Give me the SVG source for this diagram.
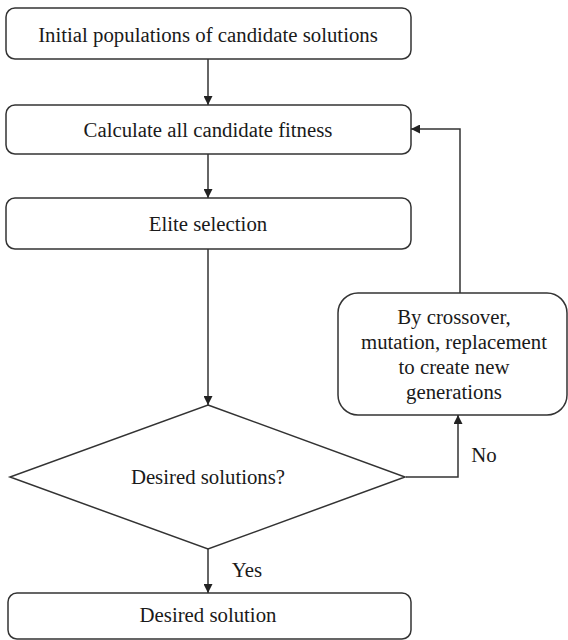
<svg xmlns="http://www.w3.org/2000/svg" width="568" height="640" viewBox="0 0 568 640">
  <style>
    .box { fill: #fff; stroke: #333; stroke-width: 1.5; }
    .lbl { font-size: 20.8px; fill: #1a1a1a; text-anchor: middle; }
    .edge { fill: none; stroke: #333; stroke-width: 1.5; }
  </style>
  <defs>
    <marker id="arrow" viewBox="0 0 10 10" refX="10" refY="5" markerWidth="9" markerHeight="9" markerUnits="userSpaceOnUse" orient="auto">
      <path d="M0,0 L10,5 L0,10 z" fill="#222"/>
    </marker>
  </defs>
  <rect width="568" height="640" fill="#fff"/>

  <g id="init">
    <rect class="box" x="6" y="8" width="405" height="51" rx="9"/>
    <text class="lbl" font-family="Liberation Serif" x="208" y="41.5">Initial populations of candidate solutions</text>
  </g>
  <g id="fitness">
    <rect class="box" x="6" y="105" width="405" height="49" rx="9"/>
    <text class="lbl" font-family="Liberation Serif" x="208" y="136.5">Calculate all candidate fitness</text>
  </g>
  <g id="elite">
    <rect class="box" x="6" y="198" width="405" height="51" rx="9"/>
    <text class="lbl" font-family="Liberation Serif" x="208" y="231">Elite selection</text>
  </g>
  <g id="decision">
    <polygon class="box" points="208,405 405,477 208,549 10,477"/>
    <text class="lbl" font-family="Liberation Serif" x="208" y="484">Desired solutions?</text>
  </g>
  <g id="result">
    <rect class="box" x="8" y="593" width="403" height="46" rx="9"/>
    <text class="lbl" font-family="Liberation Serif" x="208" y="622">Desired solution</text>
  </g>
  <g id="regenerate">
    <rect class="box" x="338" y="293" width="229" height="122" rx="20"/>
    <text class="lbl" font-family="Liberation Serif" x="454" y="324">By crossover,</text>
    <text class="lbl" font-family="Liberation Serif" x="454" y="349">mutation, replacement</text>
    <text class="lbl" font-family="Liberation Serif" x="454" y="374">to create new</text>
    <text class="lbl" font-family="Liberation Serif" x="454" y="399">generations</text>
  </g>

  <g id="connectors">
    <line class="edge" x1="208" y1="59" x2="208" y2="105" marker-end="url(#arrow)"/>
    <line class="edge" x1="208" y1="154" x2="208" y2="198" marker-end="url(#arrow)"/>
    <line class="edge" x1="208" y1="249" x2="208" y2="405" marker-end="url(#arrow)"/>
    <line class="edge" x1="208" y1="549" x2="208" y2="593" marker-end="url(#arrow)"/>
    <polyline class="edge" points="406,477 458,477 458,415" marker-end="url(#arrow)"/>
    <polyline class="edge" points="460,293 460,129 411,129" marker-end="url(#arrow)"/>
    <text class="lbl" font-family="Liberation Serif" x="247" y="577">Yes</text>
    <text class="lbl" font-family="Liberation Serif" x="484" y="462">No</text>
  </g>
</svg>
